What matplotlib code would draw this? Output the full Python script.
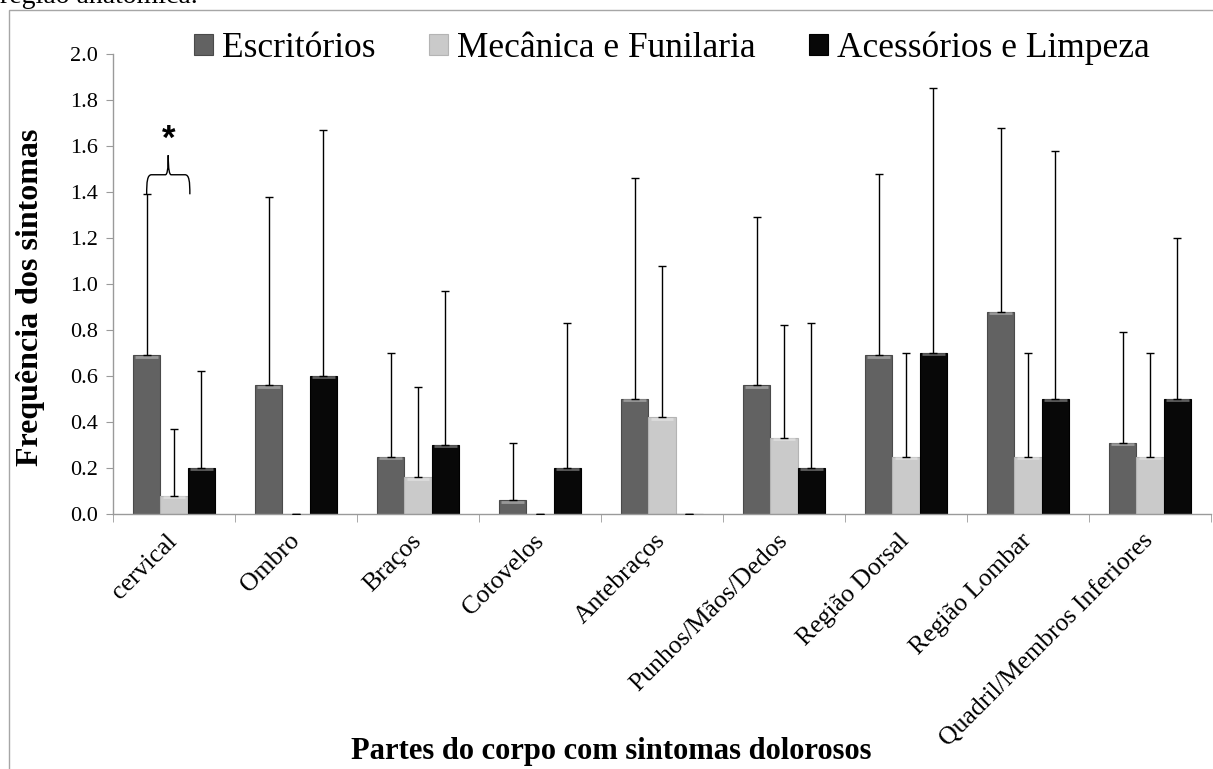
import matplotlib
matplotlib.use("Agg")
import matplotlib.pyplot as plt
import numpy as np
from matplotlib.patches import Rectangle, PathPatch
from matplotlib.path import Path

# ---- data ----
categories = ["cervical", "Ombro", "Braços", "Cotovelos", "Antebraços",
              "Punhos/Mãos/Dedos", "Região Dorsal", "Região Lombar",
              "Quadril/Membros Inferiores"]
series_names = ["Escritórios", "Mecânica e Funilaria", "Acessórios e Limpeza"]

escritorios = [0.69, 0.56, 0.25, 0.06, 0.50, 0.56, 0.69, 0.88, 0.31]
escritorios_sd = [0.70, 0.82, 0.45, 0.25, 0.96, 0.73, 0.79, 0.80, 0.48]

mecanica = [0.08, 0.0, 0.16, 0.0, 0.42, 0.33, 0.25, 0.25, 0.25]
mecanica_sd = [0.29, 0.0, 0.39, 0.0, 0.66, 0.49, 0.45, 0.45, 0.45]

acessorios = [0.20, 0.60, 0.30, 0.20, 0.0, 0.20, 0.70, 0.50, 0.50]
acessorios_sd = [0.42, 1.07, 0.67, 0.63, 0.0, 0.63, 1.15, 1.08, 0.70]

y_ticks = [0.0, 0.2, 0.4, 0.6, 0.8, 1.0, 1.2, 1.4, 1.6, 1.8, 2.0]

SERIF = "Liberation Serif"
colors = ["#626262", "#cacaca", "#080808"]
edges = ["#4a4a4a", "#b4b4b4", "#000000"]

fig = plt.figure(figsize=(12.13, 7.69), dpi=100)
ax = fig.add_axes([113 / 1213, 1 - 514 / 769, 1098 / 1213, 460 / 769])

x = np.arange(len(categories))
width = 0.224
means = [escritorios, mecanica, acessorios]
sds = [escritorios_sd, mecanica_sd, acessorios_sd]

for i, (m, s) in enumerate(zip(means, sds)):
    pos = x + (i - 1) * width
    ax.bar(pos, m, width, color=colors[i], edgecolor=edges[i], linewidth=0.8,
           label=series_names[i], zorder=2)
    # bevel highlight along the top of each bar
    for p, v in zip(pos, m):
        if v > 0:
            ax.plot([p - width / 2 + 0.02, p + width / 2 - 0.02], [v - 0.006, v - 0.006],
                    color="white", alpha=0.35, lw=2, solid_capstyle="butt", zorder=3)
    ax.errorbar(pos, m, yerr=[np.zeros(len(m)), s], fmt="none", ecolor="black",
                elinewidth=1, capsize=3, capthick=1, zorder=4)

ax.set_xlim(-0.5, len(categories) - 0.5)
ax.set_ylim(0, 2.0)
ax.set_yticks(y_ticks)
ax.set_yticklabels([f"{t:.1f}" for t in y_ticks], fontfamily=SERIF, fontsize=16)

ax.set_xticks(x)
ax.set_xticklabels(categories, rotation=45, ha="right", va="center",
                   rotation_mode="anchor", fontfamily=SERIF, fontsize=18.5)
ax.tick_params(axis="x", which="major", length=0, pad=17)
ax.set_xticks(np.arange(-0.5, len(categories)), minor=True)
ax.tick_params(axis="x", which="minor", length=6, color="#9a9a9a", direction="out")
ax.tick_params(axis="y", length=5, color="#9a9a9a", direction="out", pad=6)

for side in ["top", "right"]:
    ax.spines[side].set_visible(False)
for side in ["left", "bottom"]:
    ax.spines[side].set_color("#9a9a9a")
    ax.spines[side].set_linewidth(1)

ax.set_ylabel("Frequência dos sintomas", fontfamily=SERIF, fontsize=23, fontweight="bold")
ax.yaxis.set_label_coords(-0.062, 0.47)
ax.set_xlabel("Partes do corpo com sintomas dolorosos", fontfamily=SERIF,
              fontsize=22, fontweight="bold")
ax.xaxis.set_label_coords(0.454, -0.485)

leg = ax.legend(loc="center", bbox_to_anchor=(0.509, 1.012), ncol=3, frameon=False,
                prop={"family": SERIF, "size": 25.5}, handlelength=0.55, handleheight=0.55,
                handletextpad=0.25, columnspacing=1.5, borderaxespad=0)

# significance brace over the cervical group
x_left = x[0] - width
x_right = x[0] + width * 0.58
x_mid = (x_left + x_right) / 2
y_base = escritorios[0] + escritorios_sd[0]
y_bar = y_base + 0.085
y_tip = y_base + 0.17
d = 0.04
verts = [
    (x_left, y_base), (x_left, y_bar - 0.03), (x_left + 0.005, y_bar), (x_left + d, y_bar),
    (x_mid - d * 0.6, y_bar),
    (x_mid - 0.01, y_bar), (x_mid, y_bar + 0.02), (x_mid, y_tip),
    (x_mid, y_bar + 0.02), (x_mid + 0.01, y_bar), (x_mid + d * 0.6, y_bar),
    (x_right - d, y_bar),
    (x_right - 0.005, y_bar), (x_right, y_bar - 0.03), (x_right, y_base),
]
codes = [Path.MOVETO, Path.CURVE4, Path.CURVE4, Path.CURVE4,
         Path.LINETO,
         Path.CURVE4, Path.CURVE4, Path.CURVE4,
         Path.CURVE4, Path.CURVE4, Path.CURVE4,
         Path.LINETO,
         Path.CURVE4, Path.CURVE4, Path.CURVE4]
ax.add_patch(PathPatch(Path(verts, codes), facecolor="none", edgecolor="black",
                       lw=1, zorder=5, clip_on=False))
ax.text(x_mid, y_tip + 0.07, "*", ha="center", va="center", fontsize=25,
        fontweight="bold", fontfamily="Liberation Sans")

# outer chart frame and the clipped caption line above it
fig.patches.append(Rectangle((9 / 1213, -0.1), 1.2, 1.1 - 10 / 769,
                             transform=fig.transFigure, fill=False,
                             edgecolor="#a6a6a6", lw=1))
fig.text(0.0, 1 - 3 / 769, "região anatômica.", fontfamily=SERIF, fontsize=20,
         va="baseline", ha="left")

fig.savefig("out.png", dpi=100)
